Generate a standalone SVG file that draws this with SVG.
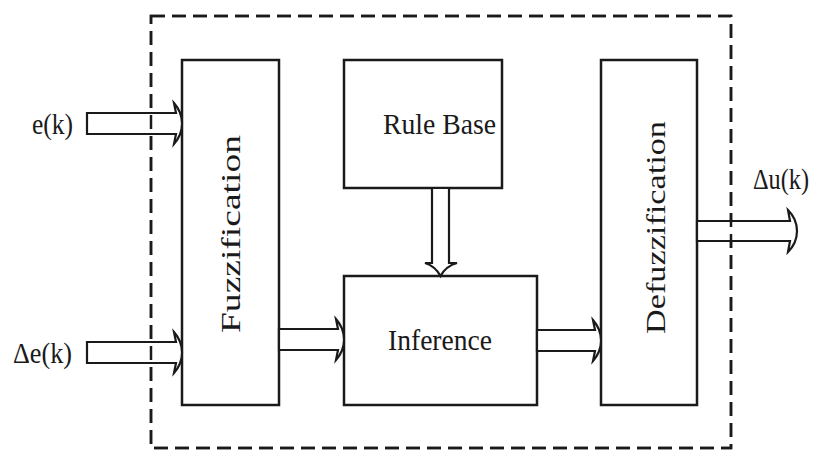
<svg xmlns="http://www.w3.org/2000/svg" width="816" height="453" viewBox="0 0 816 453">
<style>
.box{fill:#fff;stroke:#1a1a1a;stroke-width:2.5}
.arr{fill:#fff;stroke:#1a1a1a;stroke-width:2.2;stroke-linejoin:miter}
.dash{fill:none;stroke:#1a1a1a;stroke-width:2.5;stroke-dasharray:14 7}
.t{font-family:"Liberation Serif","Times New Roman",serif;font-size:30px;fill:#1a1a1a}
.v{font-family:"Liberation Serif","Times New Roman",serif;font-size:28px;fill:#1a1a1a}
</style>
<rect width="816" height="453" fill="#fff"/>
<g id="boundary"><rect class="dash" x="151" y="16" width="580" height="432"/></g>
<g id="fuzzification"><rect class="box" x="182" y="60" width="97" height="345"/>
<text class="v" transform="translate(240,333) rotate(-90)" textLength="198" lengthAdjust="spacingAndGlyphs">Fuzzification</text></g>
<g id="rulebase"><rect class="box" x="344" y="60" width="158" height="128"/>
<text class="t" x="383" y="134" textLength="113" lengthAdjust="spacingAndGlyphs">Rule Base</text></g>
<g id="inference"><rect class="box" x="344" y="276" width="193" height="129"/>
<text class="t" x="388" y="350" textLength="104" lengthAdjust="spacingAndGlyphs">Inference</text></g>
<g id="defuzzification"><rect class="box" x="601" y="60" width="96" height="345"/>
<text class="v" transform="translate(665,334) rotate(-90)" textLength="213" lengthAdjust="spacingAndGlyphs">Defuzzification</text></g>
<g id="labels">
<text class="t" x="32" y="134" textLength="41" lengthAdjust="spacingAndGlyphs">e(k)</text>
<text class="t" x="13" y="363" textLength="59" lengthAdjust="spacingAndGlyphs">Δe(k)</text>
<text class="t" transform="translate(753,189) scale(1,1.15)" style="font-size:25px" textLength="56" lengthAdjust="spacingAndGlyphs">Δu(k)</text>
</g>
<g id="connectors">
<path class="arr" d="M87,113 H176 L174,103 Q182,112 182,123.5 Q182,135 174,144 L176,134 H87 Z"/>
<path class="arr" d="M87,342 H176 L174,332 Q182,341 182,352.5 Q182,364 174,373 L176,363 H87 Z"/>
<path class="arr" d="M279,329 H338 L336,319 Q344,328 344,339.5 Q344,351 336,360 L338,350 H279 Z"/>
<path class="arr" d="M537,330 H595 L593,320 Q601,329 601,340.5 Q601,352 593,361 L595,351 H537 Z"/>
<path class="arr" d="M697,221 H790 L788,210 Q797,219 797,231 Q797,243 788,252 L790,241 H697 Z"/>
<path class="arr" d="M432,188 V263 H425 Q435,266 440.5,276 Q446,266 457,263 H449 V188 Z"/>
</g>
<g id="boundary-overlay"><rect class="dash" x="151" y="16" width="580" height="432"/></g>
</svg>
